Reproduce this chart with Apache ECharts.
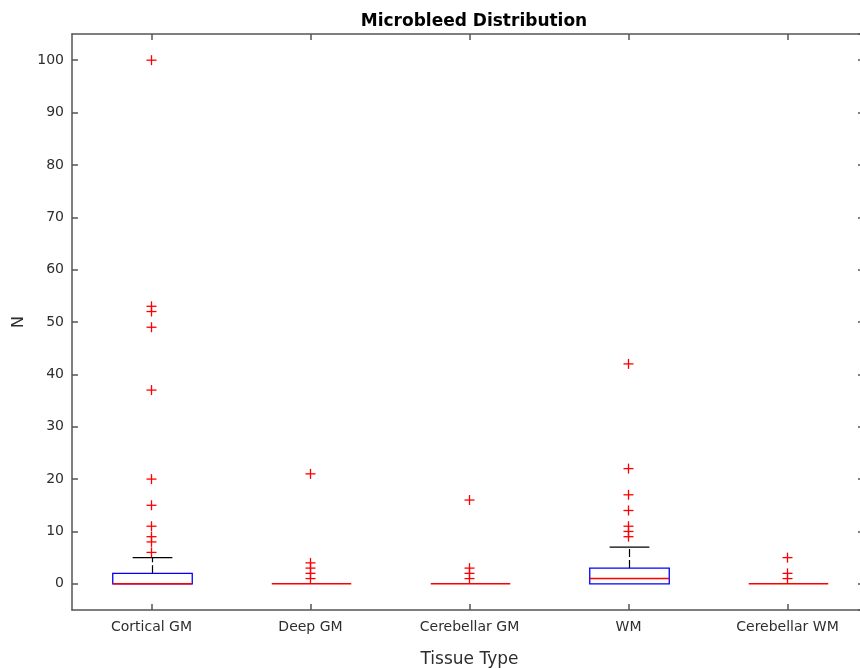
<!DOCTYPE html>
<html>
<head>
<meta charset="utf-8">
<title>Microbleed Distribution</title>
<script src="https://cdn.jsdelivr.net/npm/echarts@6/dist/echarts.min.js"></script>
<style>
  html, body { margin: 0; padding: 0; background: #fff; }
  #mydiv { width: 860px; height: 668px; }
</style>
</head>
<body>
<div id="mydiv"></div>
<script>
// categories
var categories = ['Cortical GM', 'Deep GM', 'Cerebellar GM', 'WM', 'Cerebellar WM'];

// box stats: [lower whisker, Q1, median, Q3, upper whisker]
var lowWhisker = [0, 0, 0, 0, 0];
var q1 = [0, 0, 0, 0, 0];
var median = [0, 0, 0, 1, 0];
var q3 = [2, 0, 0, 3, 0];
var highWhisker = [5, 0, 0, 7, 0];

// outliers per category
var outCortical = [6, 8, 9, 11, 15, 20, 37, 49, 52, 53, 100];
var outDeep = [1, 2, 3, 4, 21];
var outCerebGM = [1, 2, 3, 16];
var outWM = [9, 10, 11, 14, 17, 22, 42];
var outCerebWM = [1, 2, 5];

// y axis tick labels
var yTicks = [0, 10, 20, 30, 40, 50, 60, 70, 80, 90, 100];

var lineColor = '#555555';
var textColor = '#2e2e2e';
var font = 'DejaVu Sans';

// build the box data
var boxData = [];
for (var i = 0; i < categories.length; i++) {
    boxData.push([i, lowWhisker[i], q1[i], median[i], q3[i], highWhisker[i]]);
}

// build the outlier data
var outliers = [outCortical, outDeep, outCerebGM, outWM, outCerebWM];
var outData = [];
for (var c = 0; c < outliers.length; c++) {
    for (var k = 0; k < outliers[c].length; k++) {
        outData.push([c, outliers[c][k]]);
    }
}

// draw a matlab style box
function renderBox(params, api) {
    var idx = api.value(0);
    var band = api.size([1, 0])[0];
    var half = band * 0.25;
    var capHalf = band * 0.125;
    var pLow = api.coord([idx, api.value(1)]);
    var pQ1 = api.coord([idx, api.value(2)]);
    var pMed = api.coord([idx, api.value(3)]);
    var pQ3 = api.coord([idx, api.value(4)]);
    var pHigh = api.coord([idx, api.value(5)]);
    var x = Math.round(pMed[0]) + 0.5;
    var wStyle = { stroke: '#000', lineWidth: 1.2, lineDash: [8, 3] };
    var cStyle = { stroke: '#000', lineWidth: 1.2 };
    var kids = [];
    // upper whisker + cap
    if (pHigh[1] < pQ3[1]) {
        kids.push({ type: 'line', shape: { x1: x, y1: pQ3[1], x2: x, y2: pHigh[1] }, style: wStyle });
        kids.push({ type: 'line', shape: { x1: x - capHalf, y1: pHigh[1], x2: x + capHalf, y2: pHigh[1] }, style: cStyle });
    }
    // lower whisker + cap
    if (pLow[1] > pQ1[1]) {
        kids.push({ type: 'line', shape: { x1: x, y1: pQ1[1], x2: x, y2: pLow[1] }, style: wStyle });
        kids.push({ type: 'line', shape: { x1: x - capHalf, y1: pLow[1], x2: x + capHalf, y2: pLow[1] }, style: cStyle });
    }
    // box
    if (pQ1[1] - pQ3[1] > 0.5) {
        kids.push({
            type: 'rect',
            shape: { x: x - half, y: pQ3[1], width: half * 2, height: pQ1[1] - pQ3[1] },
            style: { fill: 'none', stroke: '#0000ff', lineWidth: 1.3 }
        });
    }
    // median
    kids.push({
        type: 'line',
        shape: { x1: x - half, y1: pMed[1], x2: x + half, y2: pMed[1] },
        style: { stroke: '#ff0000', lineWidth: 1.5 }
    });
    return { type: 'group', children: kids };
}

// draw a '+' marker
function renderPlus(params, api) {
    var p = api.coord([api.value(0), api.value(1)]);
    var r = 5;
    var st = { stroke: '#ff0000', lineWidth: 1.3 };
    return {
        type: 'group',
        children: [
            { type: 'line', shape: { x1: p[0] - r, y1: p[1], x2: p[0] + r, y2: p[1] }, style: st },
            { type: 'line', shape: { x1: p[0], y1: p[1] - r, x2: p[0], y2: p[1] + r }, style: st }
        ]
    };
}

var echart = echarts.init(document.getElementById('mydiv'));

var option = {
    backgroundColor: '#ffffff',
    animation: false,
    title: {
        text: 'Microbleed Distribution',
        left: 469,
        top: 8,
        textAlign: 'center',
        textStyle: { fontFamily: font, fontSize: 17, fontWeight: 'bold', color: '#000' }
    },
    grid: { left: 72, top: 34, width: 795, height: 576, outerBoundsMode: 'none', containLabel: false },
    xAxis: [{
        type: 'category',
        data: categories,
        position: 'bottom',
        name: 'Tissue Type',
        nameLocation: 'middle',
        nameGap: 41,
        nameTextStyle: { fontFamily: font, fontSize: 17, color: textColor },
        axisLine: { onZero: false, lineStyle: { color: lineColor, width: 1.5 } },
        axisTick: { show: true, inside: true, alignWithLabel: true, length: 6, lineStyle: { color: lineColor, width: 1.5 } },
        axisLabel: { fontFamily: font, fontSize: 14, color: textColor, margin: 10 },
        splitLine: { show: false }
    }, {
        type: 'category',
        data: categories,
        position: 'top',
        axisLine: { onZero: false, lineStyle: { color: lineColor, width: 1.5 } },
        axisTick: { show: true, inside: true, alignWithLabel: true, length: 6, lineStyle: { color: lineColor, width: 1.5 } },
        axisLabel: { show: false },
        splitLine: { show: false }
    }],
    yAxis: [{
        type: 'value',
        min: -5,
        max: 105,
        splitNumber: 11,
        minInterval: 10,
        maxInterval: 10,
        position: 'left',
        name: 'N',
        nameLocation: 'middle',
        nameGap: 38,
        nameTextStyle: { fontFamily: font, fontSize: 16, color: textColor },
        axisLine: { show: true, onZero: false, lineStyle: { color: lineColor, width: 1.5 } },
        axisTick: { show: true, inside: true, length: 6, lineStyle: { color: lineColor, width: 1.5 } },
        axisLabel: {
            fontFamily: font, fontSize: 14, color: textColor, margin: 8,
            showMinLabel: false, showMaxLabel: false,
            formatter: function (v) { return yTicks.indexOf(v) >= 0 ? String(v) : ''; }
        },
        splitLine: { show: false }
    }, {
        type: 'value',
        min: -5,
        max: 105,
        splitNumber: 11,
        minInterval: 10,
        maxInterval: 10,
        position: 'right',
        axisLine: { show: true, onZero: false, lineStyle: { color: lineColor, width: 1.5 } },
        axisTick: { show: true, inside: true, length: 9, lineStyle: { color: lineColor, width: 1.5 } },
        axisLabel: { show: false },
        splitLine: { show: false }
    }],
    series: [{
        name: 'box',
        type: 'custom',
        renderItem: renderBox,
        data: boxData,
        z: 2
    }, {
        name: 'outliers',
        type: 'custom',
        renderItem: renderPlus,
        data: outData,
        z: 3
    }]
};

echart.setOption(option);
</script>
</body>
</html>
